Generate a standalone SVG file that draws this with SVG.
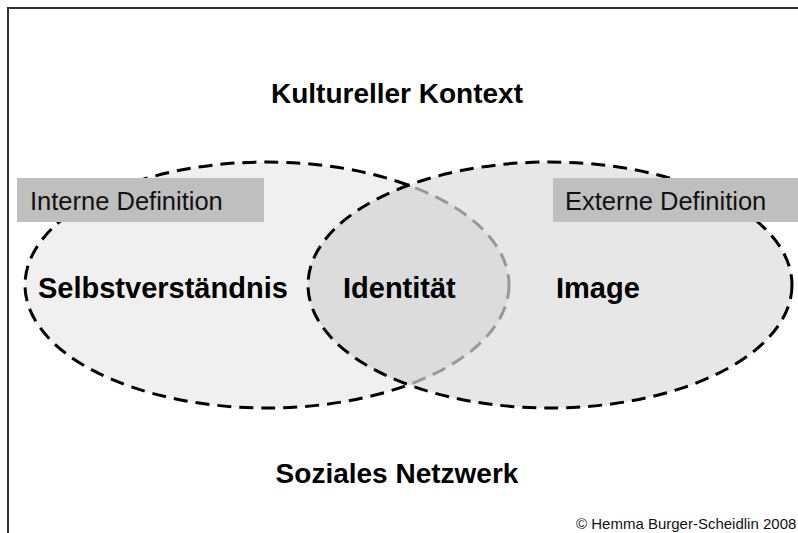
<svg xmlns="http://www.w3.org/2000/svg" width="798" height="533" viewBox="0 0 798 533">
<style>
.b{font-family:"Liberation Sans",Arial,sans-serif;font-weight:bold;fill:#000}
.r{font-family:"Liberation Sans",Arial,sans-serif;fill:#111}
.dash{fill:none;stroke-width:3;stroke-dasharray:14 8}
</style>
<defs>
<clipPath id="cr"><ellipse cx="550" cy="285" rx="242" ry="123"/></clipPath>
</defs>
<rect width="798" height="533" fill="#fff"/>
<path d="M8,533 V8 H798" fill="none" stroke="#333" stroke-width="2"/>
<g id="selbst">
<ellipse cx="267" cy="285" rx="242" ry="123" fill="#f0f0f0"/>
<ellipse cx="267" cy="285" rx="242" ry="123" stroke="#000" class="dash"/>
</g>
<g id="image">
<ellipse cx="550" cy="285" rx="242" ry="123" fill="#e7e7e7"/>
</g>
<g id="identitaet" clip-path="url(#cr)">
<ellipse cx="267" cy="285" rx="242" ry="123" fill="#dcdcdc"/>
<ellipse cx="267" cy="285" rx="242" ry="123" stroke="#999" class="dash"/>
</g>
<g id="connectors">
<ellipse cx="550" cy="285" rx="242" ry="123" stroke="#000" class="dash"/>
</g>
<g id="interne">
<rect x="17" y="178" width="247" height="44" fill="#bfbfbf"/>
<text x="30" y="210" class="r" font-size="25.5">Interne Definition</text>
</g>
<g id="externe">
<rect x="553" y="178" width="245" height="44" fill="#bfbfbf"/>
<text x="565" y="210" class="r" font-size="25.5">Externe Definition</text>
</g>
<text x="397" y="103" class="b" font-size="28" text-anchor="middle">Kultureller Kontext</text>
<text x="397" y="483" class="b" font-size="28" text-anchor="middle">Soziales Netzwerk</text>
<text x="38" y="298" class="b" font-size="29">Selbstverständnis</text>
<text x="343" y="298" class="b" font-size="29">Identität</text>
<text x="556" y="298" class="b" font-size="29">Image</text>
<text x="576" y="529" class="r" font-size="15">© Hemma Burger-Scheidlin 2008</text>
</svg>
